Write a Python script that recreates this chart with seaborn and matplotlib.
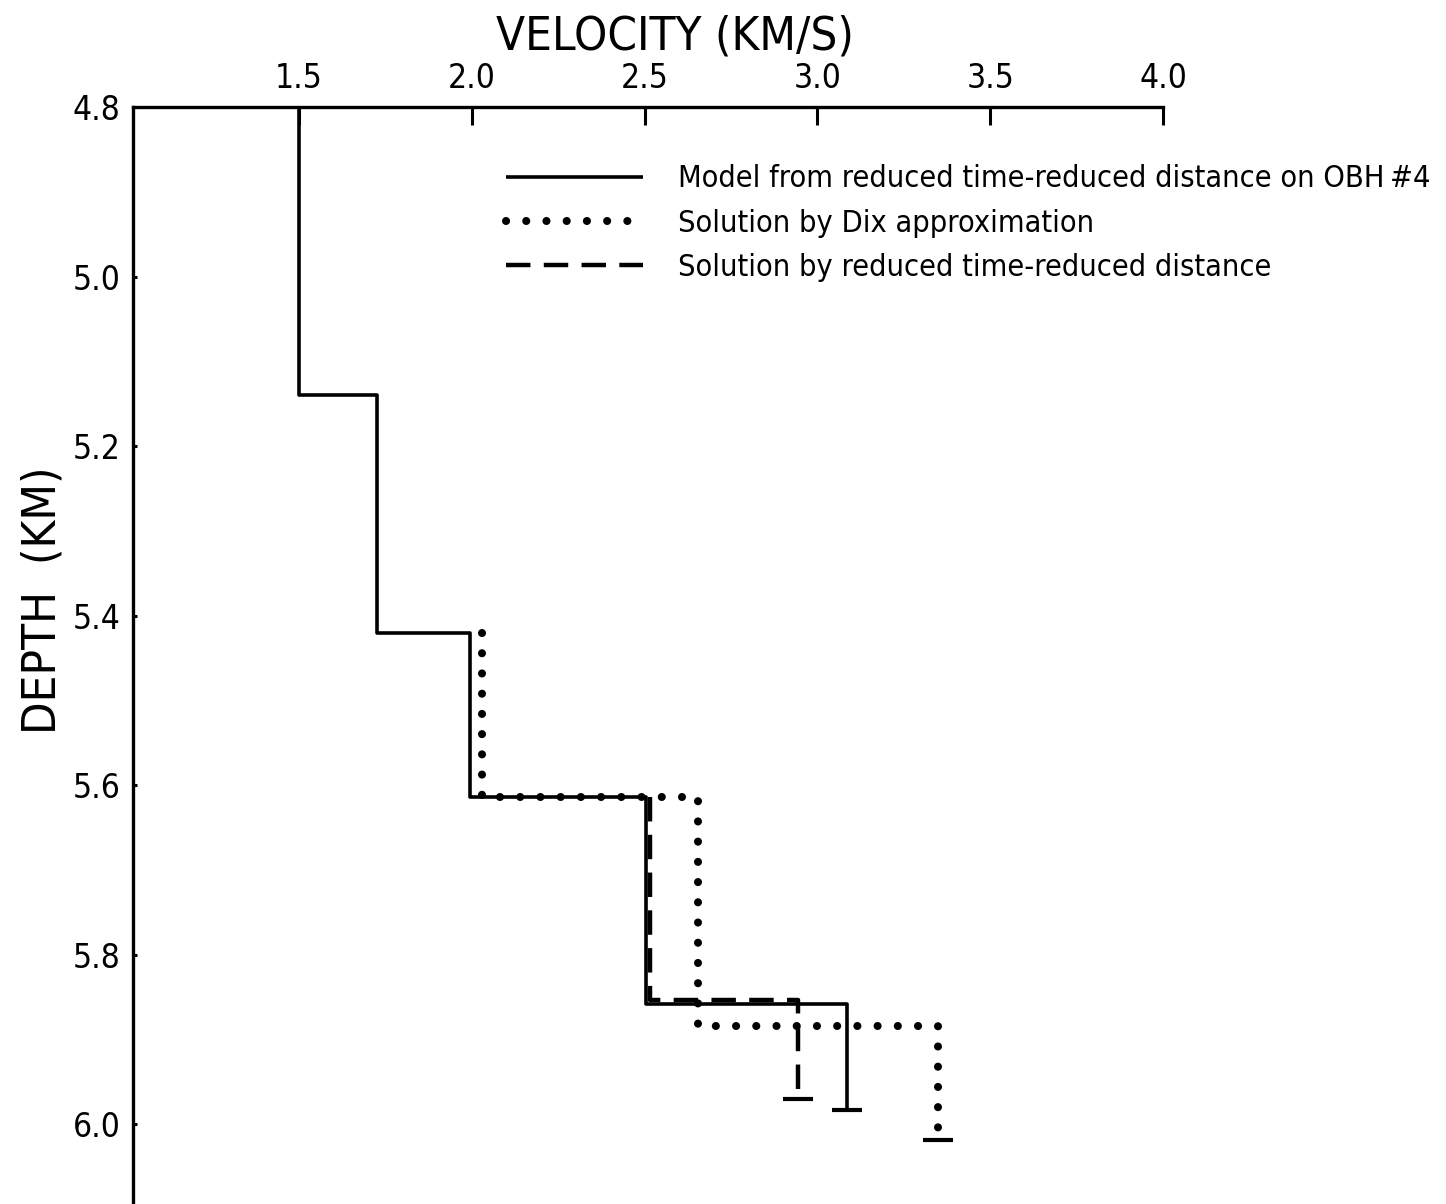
import numpy as np
import pandas as pd
import matplotlib.pyplot as plt
import seaborn as sns

# layer tops/bottoms (km) and interval velocities (km/s)
MODEL_DEPTHS = [4.8, 5.14, 5.42, 5.614, 5.858, 5.983]
MODEL_VEL = [1.5, 1.725, 1.995, 2.505, 3.085]
DIX_DEPTHS = [5.42, 5.614, 5.884, 6.019]
DIX_VEL = [2.03, 2.655, 3.35]
RTRD_DEPTHS = [5.614, 5.853, 5.97]
RTRD_VEL = [2.515, 2.945]

LABELS = ['Model from reduced time-reduced distance on OBH\u2009#4',
          'Solution by Dix approximation',
          'Solution by reduced time-reduced distance']
X_TICKS = [1.5, 2.0, 2.5, 3.0, 3.5, 4.0]
Y_TICKS = [4.8, 5.0, 5.2, 5.4, 5.6, 5.8, 6.0]


def step_frame(depths, vels, name):
    """Turn layer depths and velocities into step vertices."""
    xs, ys = [], []
    for i, v in enumerate(vels):
        xs += [v, v]
        ys += [depths[i], depths[i + 1]]
    return pd.DataFrame({'velocity': xs, 'depth': ys, 'series': name})


def main():
    sns.set_style('ticks')
    plt.rcParams['font.family'] = ['DejaVu Sans']
    plt.rcParams['font.stretch'] = 'condensed'
    plt.rcParams['text.color'] = 'black'
    plt.rcParams['axes.labelcolor'] = 'black'
    plt.rcParams['xtick.color'] = 'black'
    plt.rcParams['ytick.color'] = 'black'

    fig = plt.figure(figsize=(14.46, 12.04), dpi=100)
    ax = fig.add_axes([0.092, 0.0, 0.7123, 0.9111])

    styles = [
        dict(color='black', lw=2.6, solid_capstyle='butt'),
        dict(color='black', lw=5.8, dashes=(0.01, 2.5), dash_capstyle='round'),
        dict(color='black', lw=3.2, dashes=(5.5, 3)),
    ]
    sets = [(MODEL_DEPTHS, MODEL_VEL), (DIX_DEPTHS, DIX_VEL), (RTRD_DEPTHS, RTRD_VEL)]
    for (d, v), name, st in zip(sets, LABELS, styles):
        df = step_frame(d, v, name)
        st = dict(st)
        dashes = st.pop('dashes', None)
        sns.lineplot(data=df, x='velocity', y='depth', sort=False,
                     estimator=None, ax=ax, label=name, **st)
        ln = ax.lines[-1]
        if dashes is not None:
            ln.set_dashes(dashes)
        # cap at the bottom of the last layer
        ax.plot([v[-1]], [d[-1]], marker='_', markersize=22, mew=3,
                color='black', linestyle='none')

    ax.set_xlim(1.02, 4.0)
    ax.set_ylim(6.094, 4.8)
    ax.set_xticks(X_TICKS)
    ax.set_xticklabels([f'{t:.1f}' for t in X_TICKS])
    ax.set_yticks(Y_TICKS)
    ax.set_yticklabels([f'{t:.1f}' for t in Y_TICKS])
    ax.xaxis.tick_top()
    ax.xaxis.set_label_position('top')
    ax.tick_params(axis='x', direction='in', length=13, width=2.2, pad=9, labelsize=24)
    ax.tick_params(axis='y', direction='in', length=3, width=2.2, pad=9, labelsize=24)

    for s in ['right', 'bottom']:
        ax.spines[s].set_visible(False)
    for s in ['left', 'top']:
        ax.spines[s].set_linewidth(2.4)
        ax.spines[s].set_color('black')

    ax.set_xlabel('VELOCITY (KM/S)', fontsize=34)
    ax.set_ylabel('DEPTH  (KM)', fontsize=34)
    ax.xaxis.set_label_coords(0.526, 1.052)
    ax.yaxis.set_label_coords(-0.066, 0.55)

    ax.legend(loc='upper left', bbox_to_anchor=(0.35, 0.959), frameon=False,
              fontsize=22, handlelength=4.5, handletextpad=1.15,
              labelspacing=0.5, borderaxespad=0)

    fig.savefig('out.png', dpi=100)


if __name__ == '__main__':
    main()
